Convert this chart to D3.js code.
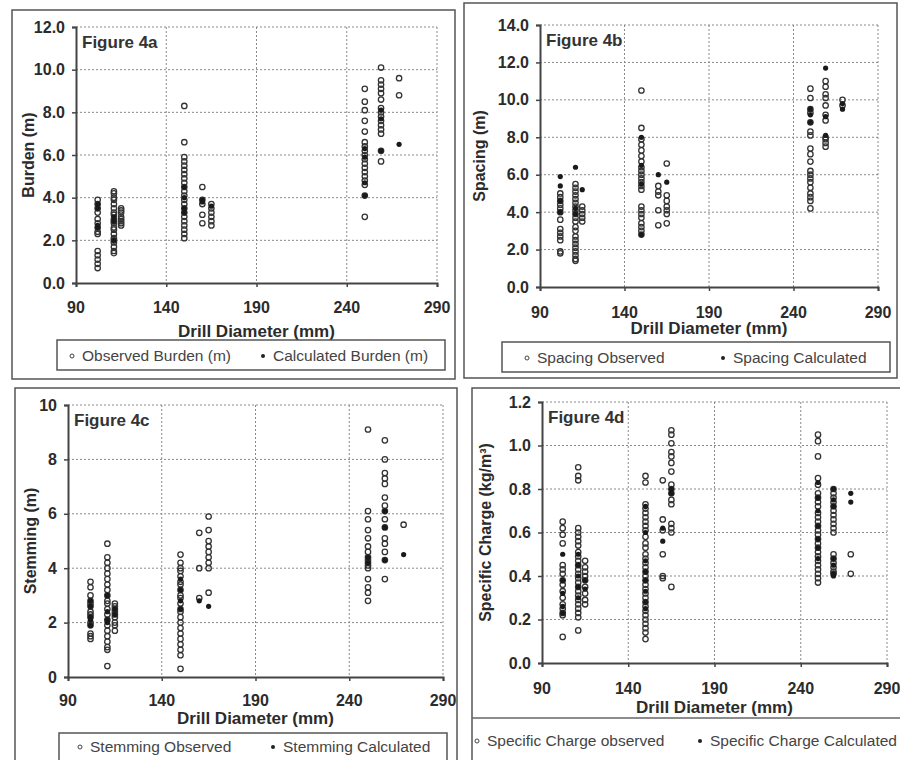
<!DOCTYPE html>
<html><head><meta charset="utf-8">
<script src="https://cdn.jsdelivr.net/npm/d3@7"></script>
<style>
html,body{margin:0;padding:0;background:#fff;}
svg{display:block;}
</style></head>
<body>
<svg id="chart" width="900" height="760"></svg>
<script>
// ---------------- DATA ----------------
const diameters = [102, 111, 115, 150, 160, 165, 250, 259, 269];
const xTicks = [90, 140, 190, 240, 290];

const burdenObserved = [
  [3.9, 3.7, 3.5, 3.3, 3.0, 2.8, 2.6, 2.4, 2.3, 1.5, 1.3, 1.1, 0.9, 0.7],
  [4.3, 4.2, 4.0, 3.9, 3.7, 3.5, 3.3, 3.2, 3.0, 2.9, 2.8, 2.6, 2.5, 2.3, 2.1, 2.0, 1.9, 1.7, 1.5, 1.4],
  [3.5, 3.4, 3.3, 3.1, 3.0, 2.9, 2.8, 2.7],
  [8.3, 6.6, 5.9, 5.7, 5.5, 5.3, 5.1, 4.9, 4.7, 4.5, 4.3, 4.1, 3.9, 3.7, 3.5, 3.3, 3.1, 2.9, 2.7, 2.5, 2.3, 2.1],
  [4.5, 3.9, 3.7, 3.2, 2.8],
  [3.7, 3.5, 3.3, 3.1, 2.9, 2.7],
  [9.1, 8.5, 8.1, 7.6, 7.1, 6.6, 6.4, 6.2, 6.0, 5.8, 5.6, 5.4, 5.2, 5.0, 4.8, 4.6, 4.1, 3.1],
  [10.1, 9.5, 9.3, 9.1, 8.9, 8.6, 8.2, 8.0, 7.8, 7.6, 7.4, 7.2, 7.0, 6.2, 5.7],
  [9.6, 8.8]
];
const burdenCalculated = [
  [3.7, 3.5, 2.7, 2.6], [3.1, 2.9, 2.0], [], [4.5, 4.0, 3.5, 3.3], [3.9, 3.8], [3.6],
  [6.3, 5.9, 4.7, 4.1], [8.1, 7.7, 6.2], [6.5]
];
const burdenTicks = [0, 2, 4, 6, 8, 10, 12];

const spacingObserved = [
  [5.0, 4.8, 4.6, 4.4, 4.2, 4.0, 3.6, 3.1, 2.9, 2.7, 2.5, 1.9, 1.8],
  [5.5, 5.3, 5.1, 4.9, 4.7, 4.5, 4.3, 4.1, 3.9, 3.7, 3.5, 3.2, 3.0, 2.7, 2.5, 2.3, 2.1, 1.9, 1.7, 1.5, 1.4],
  [4.3, 4.1, 3.9, 3.7, 3.5],
  [10.5, 8.5, 7.9, 7.6, 7.3, 7.0, 6.7, 6.4, 6.2, 6.0, 5.8, 5.6, 5.4, 5.2, 4.3, 4.1, 3.9, 3.7, 3.4, 3.2, 3.0, 2.8],
  [5.4, 5.1, 4.9, 4.1, 3.3],
  [6.6, 4.9, 4.6, 4.3, 4.1, 3.9, 3.4],
  [10.6, 10.1, 9.5, 9.3, 8.8, 8.3, 8.1, 7.4, 7.1, 6.7, 6.2, 6.0, 5.8, 5.6, 5.3, 5.0, 4.8, 4.6, 4.2],
  [11.0, 10.7, 10.3, 10.1, 9.7, 9.2, 8.9, 8.0, 7.9, 7.7, 7.5],
  [10.0, 9.7]
];
const spacingCalculated = [
  [5.9, 5.4, 4.6, 4.0], [6.4, 4.2, 3.9], [5.2], [8.0, 6.5, 5.5, 2.8], [6.0], [5.6],
  [9.5, 9.2, 8.8], [11.7, 9.1, 8.1], [9.8, 9.5]
];
const spacingTicks = [0, 2, 4, 6, 8, 10, 12, 14];

const stemmingObserved = [
  [3.5, 3.3, 3.0, 2.8, 2.7, 2.6, 2.4, 2.3, 2.2, 2.0, 1.9, 1.6, 1.5, 1.4],
  [4.9, 4.4, 4.2, 4.0, 3.8, 3.6, 3.4, 3.2, 3.0, 2.8, 2.7, 2.5, 2.3, 2.1, 1.9, 1.7, 1.5, 1.3, 1.1, 1.0, 0.4],
  [2.7, 2.6, 2.5, 2.4, 2.3, 2.2, 2.0, 1.9, 1.7],
  [4.5, 4.2, 4.0, 3.9, 3.7, 3.5, 3.4, 3.2, 3.0, 2.9, 2.7, 2.5, 2.4, 2.2, 2.0, 1.8, 1.6, 1.4, 1.2, 1.0, 0.8, 0.3],
  [5.3, 4.0, 2.9],
  [5.9, 5.4, 5.0, 4.8, 4.6, 4.4, 4.2, 4.0, 3.1],
  [9.1, 6.1, 5.8, 5.4, 5.1, 4.8, 4.6, 4.4, 4.3, 4.2, 4.1, 4.0, 3.6, 3.3, 3.1, 2.8],
  [8.7, 8.0, 7.5, 7.3, 7.1, 6.6, 6.3, 6.1, 5.8, 5.5, 5.1, 4.9, 4.6, 4.3, 3.6],
  [5.6]
];
const stemmingCalculated = [
  [2.8, 2.6, 2.2, 2.1, 1.9], [3.0, 2.4, 2.1, 2.0], [2.5, 2.3], [3.6, 3.2, 2.8, 2.5], [2.8], [2.6],
  [4.4, 4.2], [6.1, 5.5, 4.3], [4.5]
];
const stemmingTicks = [0, 2, 4, 6, 8, 10];

const chargeObserved = [
  [0.65, 0.62, 0.59, 0.55, 0.45, 0.43, 0.41, 0.38, 0.36, 0.33, 0.30, 0.27, 0.25, 0.23, 0.22, 0.12],
  [0.90, 0.86, 0.84, 0.62, 0.60, 0.58, 0.56, 0.54, 0.51, 0.49, 0.47, 0.45, 0.43, 0.41, 0.39, 0.37, 0.35, 0.33, 0.31, 0.29, 0.27, 0.25, 0.23, 0.21, 0.15],
  [0.47, 0.44, 0.42, 0.40, 0.38, 0.35, 0.32, 0.29, 0.27],
  [0.86, 0.83, 0.73, 0.71, 0.69, 0.67, 0.65, 0.63, 0.61, 0.58, 0.55, 0.53, 0.50, 0.48, 0.46, 0.44, 0.42, 0.40, 0.38, 0.36, 0.34, 0.32, 0.30, 0.28, 0.26, 0.24, 0.22, 0.20, 0.18, 0.16, 0.14, 0.11],
  [0.84, 0.66, 0.61, 0.50, 0.40, 0.39],
  [1.07, 1.05, 1.01, 0.97, 0.95, 0.92, 0.88, 0.82, 0.80, 0.78, 0.75, 0.73, 0.64, 0.62, 0.60, 0.35],
  [1.05, 1.02, 0.95, 0.85, 0.82, 0.78, 0.76, 0.74, 0.72, 0.69, 0.67, 0.65, 0.63, 0.61, 0.59, 0.57, 0.55, 0.53, 0.51, 0.49, 0.47, 0.45, 0.43, 0.41, 0.39, 0.37],
  [0.80, 0.78, 0.76, 0.74, 0.72, 0.70, 0.68, 0.66, 0.64, 0.62, 0.60, 0.50, 0.48, 0.46, 0.44, 0.42, 0.41],
  [0.50, 0.41]
];
const chargeCalculated = [
  [0.50, 0.38, 0.32, 0.26, 0.23], [0.50, 0.45, 0.40, 0.35, 0.30], [0.38, 0.34],
  [0.72, 0.60, 0.47, 0.42, 0.38, 0.33, 0.28, 0.25], [0.62, 0.56], [0.80, 0.78],
  [0.83, 0.76, 0.70, 0.63, 0.57, 0.53, 0.48], [0.80, 0.75, 0.72, 0.48, 0.45, 0.41, 0.40], [0.78, 0.74]
];
const chargeTicks = [0, 0.2, 0.4, 0.6, 0.8, 1.0, 1.2];

// ---------------- LAYOUT ----------------
const panels = [
  { frame:[12,10,443,369], plot:{l:76,r:437,t:27,b:283}, yMax:12, ticks:burdenTicks, fmt:d3.format(".1f"),
    obs:burdenObserved, calc:burdenCalculated, fig:"Figure 4a", yTitle:"Burden (m)", yTitleX:28,
    tickY:307, xTitleY:331, legend:{box:[57,340,388,30], y:356, o:72, ot:"Observed Burden (m)", c:263, ct:"Calculated Burden (m)"} },
  { frame:[464,3,433,375], plot:{l:540,r:878,t:25,b:287}, yMax:14, ticks:spacingTicks, fmt:d3.format(".1f"),
    obs:spacingObserved, calc:spacingCalculated, fig:"Figure 4b", yTitle:"Spacing (m)", yTitleX:479,
    tickY:312, xTitleY:328, legend:{box:[502,342,388,30], y:358, o:527, ot:"Spacing Observed", c:723, ct:"Spacing Calculated"} },
  { frame:[15,388,442,380], plot:{l:68,r:443,t:405,b:677}, yMax:10, ticks:stemmingTicks, fmt:d3.format("d"),
    obs:stemmingObserved, calc:stemmingCalculated, fig:"Figure 4c", yTitle:"Stemming (m)", yTitleX:30,
    tickY:700, xTitleY:718, legend:{box:[59,733,388,40], y:747, o:80, ot:"Stemming Observed", c:273, ct:"Stemming Calculated"} },
  { frame:[472,388,440,380], plot:{l:542,r:887,t:402,b:663}, yMax:1.2, ticks:chargeTicks, fmt:d3.format(".1f"),
    obs:chargeObserved, calc:chargeCalculated, fig:"Figure 4d", yTitle:"Specific Charge (kg/m³)", yTitleX:485,
    tickY:688, xTitleY:707, legend:{line:718, y:741, o:477, ot:"Specific Charge observed", c:700, ct:"Specific Charge Calculated"} }
];

const svg = d3.select("#chart");
const FONT = "'Liberation Sans', Arial, sans-serif";
const INK = "#2b2b2b";

panels.forEach(p => {
  const g = svg.append("g");
  g.append("rect").attr("x", p.frame[0]).attr("y", p.frame[1])
    .attr("width", p.frame[2]).attr("height", p.frame[3])
    .attr("fill", "none").attr("stroke", "#555").attr("stroke-width", 1.5);

  const x = d3.scaleLinear().domain([90, 290]).range([p.plot.l, p.plot.r]);
  const y = d3.scaleLinear().domain([0, p.yMax]).range([p.plot.b, p.plot.t]);

  const grid = g.append("g").attr("stroke", "#8a8a8a").attr("stroke-width", 1).attr("stroke-dasharray", "2,2");
  xTicks.slice(1).forEach(v => grid.append("line").attr("x1", x(v)).attr("x2", x(v)).attr("y1", p.plot.t).attr("y2", p.plot.b));
  p.ticks.slice(1).forEach(v => grid.append("line").attr("x1", p.plot.l).attr("x2", p.plot.r).attr("y1", y(v)).attr("y2", y(v)));

  const xAxis = g.append("g").attr("transform", `translate(0,${p.plot.b})`)
    .call(d3.axisBottom(x).tickValues(xTicks).tickSize(4).tickFormat(""));
  const yAxis = g.append("g").attr("transform", `translate(${p.plot.l},0)`)
    .call(d3.axisLeft(y).tickValues(p.ticks).tickSize(4).tickFormat(""));
  [xAxis, yAxis].forEach(a => {
    a.select(".domain").attr("stroke", "#444").attr("stroke-width", 2);
    a.selectAll(".tick line").attr("stroke", "#444").attr("stroke-width", 1.5);
  });

  g.selectAll(null).data(xTicks).join("text")
    .attr("x", d => x(d)).attr("y", p.tickY).attr("dy", "0.35em")
    .attr("text-anchor", "middle").attr("font-family", FONT).attr("font-weight", "bold")
    .attr("font-size", 16).attr("fill", INK).text(d => d);
  g.selectAll(null).data(p.ticks).join("text")
    .attr("x", p.plot.l - 11).attr("y", d => y(d)).attr("dy", "0.35em")
    .attr("text-anchor", "end").attr("font-family", FONT).attr("font-weight", "bold")
    .attr("font-size", 16).attr("fill", INK).text(d => p.fmt(d));

  g.append("text").attr("x", (p.plot.l + p.plot.r) / 2).attr("y", p.xTitleY).attr("dy", "0.35em")
    .attr("text-anchor", "middle").attr("font-family", FONT).attr("font-weight", "bold")
    .attr("font-size", 17).attr("fill", INK).text("Drill Diameter (mm)");
  g.append("text").attr("transform", `translate(${p.yTitleX},${(p.plot.t + p.plot.b) / 2}) rotate(-90)`)
    .attr("dy", "0.35em").attr("text-anchor", "middle").attr("font-family", FONT).attr("font-weight", "bold")
    .attr("font-size", 16).attr("fill", INK).text(p.yTitle);
  g.append("text").attr("x", p.plot.l + 6).attr("y", p.plot.t + 21)
    .attr("font-family", FONT).attr("font-weight", "bold").attr("font-size", 17)
    .attr("fill", "#333").text(p.fig);

  const obsPts = p.obs.flatMap((arr, i) => arr.map(v => [diameters[i], v]));
  const calcPts = p.calc.flatMap((arr, i) => arr.map(v => [diameters[i], v]));
  g.append("g").selectAll("circle").data(obsPts).join("circle")
    .attr("cx", d => x(d[0])).attr("cy", d => y(d[1])).attr("r", 2.7)
    .attr("fill", "none").attr("stroke", "#333").attr("stroke-width", 1.3);
  g.append("g").selectAll("circle").data(calcPts).join("circle")
    .attr("cx", d => x(d[0])).attr("cy", d => y(d[1])).attr("r", 2.6)
    .attr("fill", "#1a1a1a");

  const L = p.legend;
  if (L.box) {
    g.append("rect").attr("x", L.box[0]).attr("y", L.box[1]).attr("width", L.box[2]).attr("height", L.box[3])
      .attr("fill", "none").attr("stroke", "#555").attr("stroke-width", 1.5);
  }
  if (L.line) {
    g.append("line").attr("x1", p.frame[0]).attr("x2", 900).attr("y1", L.line).attr("y2", L.line)
      .attr("stroke", "#666").attr("stroke-width", 1.5);
  }
  g.append("circle").attr("cx", L.o).attr("cy", L.y).attr("r", 2).attr("fill", "none").attr("stroke", "#444").attr("stroke-width", 1);
  g.append("circle").attr("cx", L.c).attr("cy", L.y).attr("r", 2).attr("fill", "#222");
  g.append("text").attr("x", L.o + 10).attr("y", L.y).attr("dy", "0.35em")
    .attr("font-family", FONT).attr("font-size", 15.5).attr("fill", "#444").text(L.ot);
  g.append("text").attr("x", L.c + 10).attr("y", L.y).attr("dy", "0.35em")
    .attr("font-family", FONT).attr("font-size", 15.5).attr("fill", "#444").text(L.ct);
});
</script>
</body></html>
